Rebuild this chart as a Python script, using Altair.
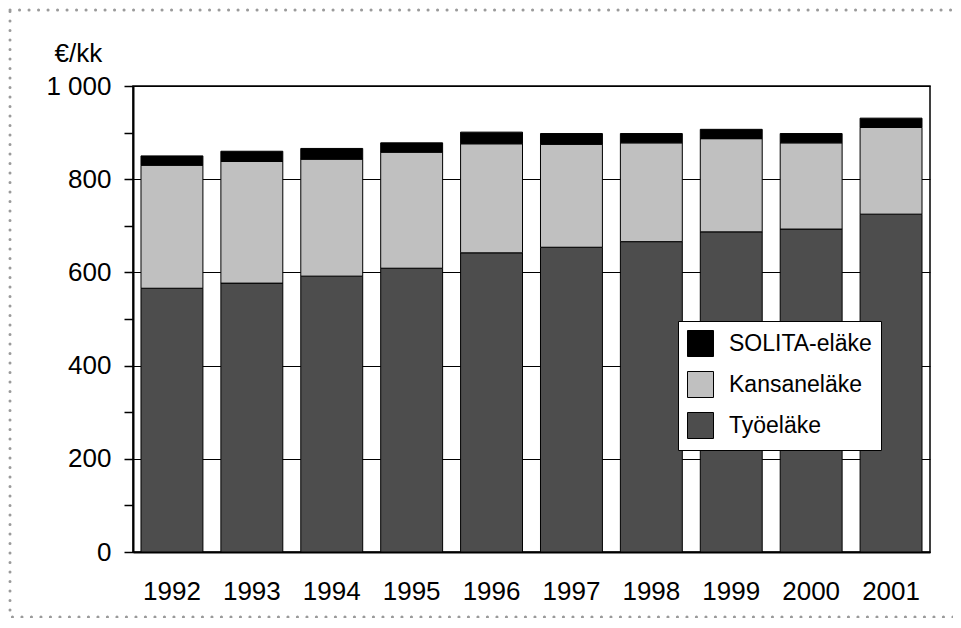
import altair as alt
import pandas as pd

years = ["1992", "1993", "1994", "1995", "1996", "1997", "1998", "1999", "2000", "2001"]
tyoelake = [566, 577, 592, 609, 642, 654, 666, 687, 693, 725]
kansanelake = [264, 261, 251, 249, 234, 221, 212, 200, 185, 186]
solita = [20, 22, 23, 20, 25, 23, 20, 20, 20, 20]

series_names = ["SOLITA-eläke", "Kansaneläke", "Työeläke"]
series_colors = ["#000000", "#c0c0c0", "#4d4d4d"]
y_ticks = list(range(0, 1001, 100))

rows = []
for i, yr in enumerate(years):
    rows.append({"year": yr, "series": "Työeläke", "value": tyoelake[i], "ord": 1})
    rows.append({"year": yr, "series": "Kansaneläke", "value": kansanelake[i], "ord": 2})
    rows.append({"year": yr, "series": "SOLITA-eläke", "value": solita[i], "ord": 3})
df = pd.DataFrame(rows)

FONT = "Liberation Sans"

border = alt.Chart(alt.Data(values=[{"a": 1}])).mark_rect(
    filled=False, stroke="#9a9a9a", strokeWidth=3, strokeDash=[0.1, 9.4], strokeCap="round"
).encode(
    x=alt.value(-123), x2=alt.value(900), y=alt.value(-76), y2=alt.value(531)
)

bars = alt.Chart(df).mark_bar(stroke="black", strokeWidth=1).encode(
    x=alt.X(
        "year:N",
        sort=years,
        scale=alt.Scale(paddingInner=0.225, paddingOuter=0.1),
        axis=alt.Axis(
            title=None, labelAngle=0, ticks=False, tickSize=0, labelFontSize=26,
            labelFont=FONT, labelColor="black", labelPadding=26,
            domainColor="black", domainWidth=2, grid=False,
        ),
    ),
    y=alt.Y(
        "value:Q",
        stack="zero",
        scale=alt.Scale(domain=[0, 1000], nice=False),
        axis=alt.Axis(
            values=y_ticks,
            labelExpr="datum.value % 200 === 0 ? replace(format(datum.value, ','), ',', ' ') : ''",
            title="€/kk", titleAngle=0, titleX=-79, titleY=-25, titleAlign="left",
            titleBaseline="alphabetic", titleFontSize=26, titleFontWeight="normal",
            titleFont=FONT, titleColor="black",
            tickSize=9, tickColor="black", tickWidth=1.5,
            labelFontSize=26, labelFont=FONT, labelColor="black", labelPadding=13,
            grid=True,
            gridColor={"condition": {"test": "datum.value % 200 === 0", "value": "black"}, "value": "transparent"},
            gridWidth=1,
            domainColor="black", domainWidth=2,
        ),
    ),
    color=alt.Color(
        "series:N",
        scale=alt.Scale(domain=series_names, range=series_colors),
        legend=alt.Legend(
            title=None, orient="none", legendX=545, legendY=235,
            symbolType="square", symbolSize=676, symbolStrokeColor="black",
            symbolStrokeWidth=1, symbolOpacity=1,
            labelFontSize=23, labelFont=FONT, labelColor="black", labelOffset=15,
            rowPadding=10, padding=9, strokeColor="black", fillColor="white",
        ),
    ),
    order=alt.Order("ord:Q", sort="ascending"),
)

chart = alt.layer(border, bars).properties(
    width=797, height=466,
    padding={"left": 125, "top": 78, "right": 23, "bottom": 66},
    autosize=alt.AutoSizeParams(type="none"),
).configure(font=FONT).configure_view(stroke="black", strokeWidth=1.5)

chart.save("out.html", embed_options={"renderer": "svg", "actions": False})
